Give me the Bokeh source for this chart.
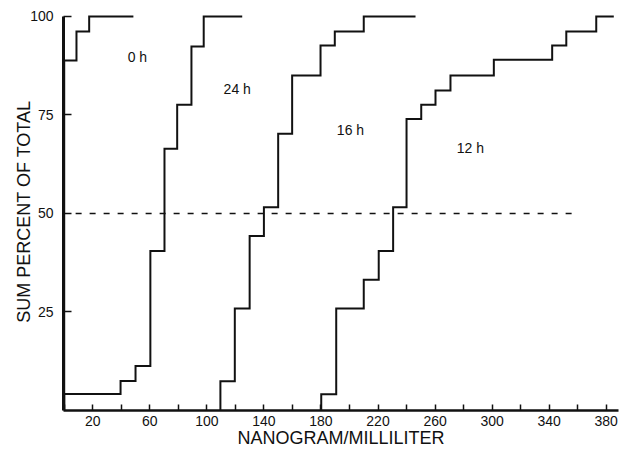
import numpy as np
from bokeh.plotting import figure
from bokeh.models import FixedTicker, Range1d
from bokeh.core.properties import value
from bokeh.embed import file_html
from bokeh.resources import INLINE

# ---- data (ng/mL vs cumulative percent) ----
x_0h = [0, 0, 8.6, 17.5, 48.5]
y_0h = [0, 88.8, 96.2, 100, 100]

x_24h = [0, 0, 39.5, 50, 60.4, 70.3, 79.2, 89.2, 97.8, 124.8]
y_24h = [0, 4.2, 7.5, 11.3, 40.5, 66.4, 77.6, 92.4, 100, 100]

x_16h = [109.5, 109.5, 119.6, 130, 140, 150, 159.8, 179.7, 189.7, 210, 246.3]
y_16h = [0, 7.4, 25.9, 44.3, 51.6, 70.2, 85, 92.6, 96.2, 100, 100]

x_12h = [180.2, 180.2, 190.7, 210, 220.5, 230.6, 240, 250.3, 260.3, 270.8, 301.2, 342.1, 352, 373, 385.3]
y_12h = [0, 4.1, 25.9, 33.2, 40.5, 51.6, 74, 77.6, 81.2, 85, 89, 92.6, 96.2, 100, 100]

ref_x = [8, 360]
ref_y = [50, 50]

curve_labels = ["0 h", "24 h", "16 h", "12 h"]
curve_label_x = [51.3, 121.3, 200.7, 284.8]
curve_label_y = [89.7, 81.7, 71.2, 66.6]

x_ticks_labeled = [20, 60, 100, 140, 180, 220, 260, 300, 340, 380]
x_ticks_minor = [0, 40, 80, 120, 160, 200, 240, 280, 320, 360]
y_ticks = [25, 50, 75, 100]

x_title = "NANOGRAM/MILLILITER"
y_title = "SUM PERCENT OF TOTAL"

FONT = "Liberation Sans"
INK = "#111111"

p = figure(width=624, height=451,
           x_range=Range1d(-0.5, 388.6), y_range=Range1d(0, 101),
           output_backend="svg", toolbar_location=None,
           min_border_left=63, min_border_right=6,
           min_border_top=12, min_border_bottom=41)
p.grid.visible = False
p.outline_line_color = None
p.background_fill_color = "white"
p.border_fill_color = "white"

# x axis
xa = p.xaxis[0]
xa.ticker = FixedTicker(ticks=x_ticks_labeled, minor_ticks=x_ticks_minor)
xa.axis_line_width = 2.5
xa.axis_line_color = INK
xa.major_tick_in = 6
xa.major_tick_out = 0
xa.minor_tick_in = 6
xa.minor_tick_out = 0
xa.major_tick_line_width = 1.5
xa.minor_tick_line_width = 1.5
xa.major_tick_line_color = INK
xa.minor_tick_line_color = INK
xa.major_label_text_font = FONT
xa.major_label_text_font_size = "14px"
xa.major_label_text_color = INK
xa.major_label_standoff = 5
xa.axis_label = x_title
xa.axis_label_text_font = FONT
xa.axis_label_text_font_size = "18px"
xa.axis_label_text_font_style = "normal"
xa.axis_label_text_color = INK
xa.axis_label_standoff = -1

# y axis
ya = p.yaxis[0]
ya.ticker = FixedTicker(ticks=y_ticks)
ya.bounds = (0, 100)
ya.axis_line_width = 3
ya.axis_line_color = INK
ya.major_tick_in = 8
ya.major_tick_out = 0
ya.major_tick_line_width = 1.5
ya.major_tick_line_color = INK
ya.minor_tick_line_color = None
ya.major_label_text_font = FONT
ya.major_label_text_font_size = "14px"
ya.major_label_text_color = INK
ya.major_label_standoff = 10
ya.axis_label = y_title
ya.axis_label_text_font = FONT
ya.axis_label_text_font_size = "18px"
ya.axis_label_text_font_style = "normal"
ya.axis_label_text_color = INK
ya.axis_label_standoff = -7

# reference line at 50 %
p.line(ref_x, ref_y, line_color=INK, line_width=1.5, line_dash="6 8")

# cumulative step curves
for xs, ys in [(x_0h, y_0h), (x_24h, y_24h), (x_16h, y_16h), (x_12h, y_12h)]:
    p.step(xs, ys, mode="after", line_color=INK, line_width=2, line_join="miter")

# curve labels
p.text(x=curve_label_x, y=curve_label_y, text=curve_labels,
       text_font=value(FONT), text_font_size=value("14px"),
       text_align="center", text_baseline="middle", text_color=INK)

open("out.html", "w").write(file_html(p, INLINE))
